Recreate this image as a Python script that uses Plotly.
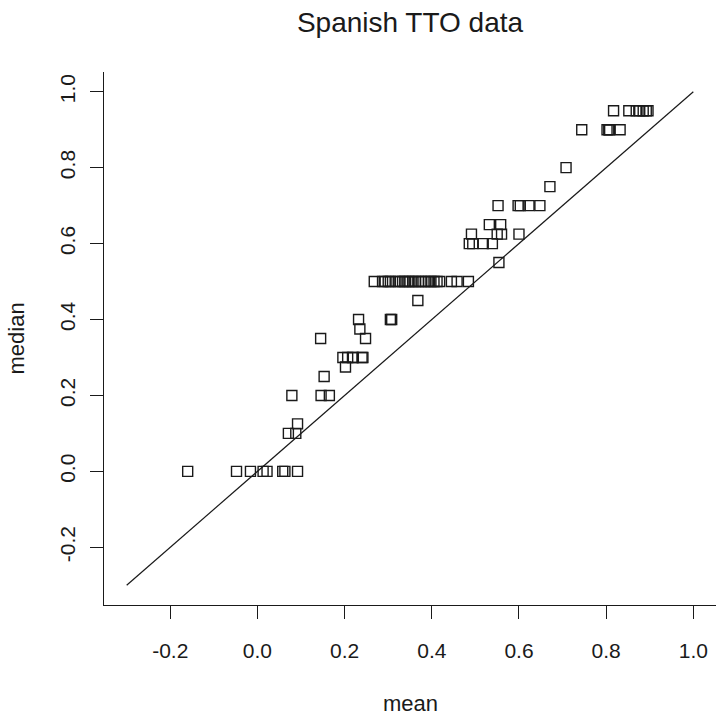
import plotly.graph_objects as go

# TTO data: mean vs median per health state
mean_vals = [
    -0.160, -0.048, -0.016, 0.013, 0.022, 0.058, 0.063, 0.092,   # median 0
    0.071, 0.088,                                                # 0.1
    0.092,                                                       # 0.125
    0.079, 0.146, 0.165,                                         # 0.2
    0.153,                                                       # 0.25
    0.202,                                                       # 0.275
    0.196, 0.207, 0.218, 0.220, 0.240, 0.242,                    # 0.3
    0.145, 0.248,                                                # 0.35
    0.235,                                                       # 0.375
    0.232, 0.305, 0.308,                                         # 0.4
    0.368,                                                       # 0.45
    0.268, 0.287, 0.293, 0.300, 0.305, 0.318, 0.325, 0.333, 0.338, 0.345,
    0.350, 0.357, 0.363, 0.370, 0.377, 0.385, 0.392, 0.398, 0.405, 0.412,
    0.418, 0.445, 0.458, 0.484,                                  # 0.5
    0.554,                                                       # 0.55
    0.486, 0.494, 0.518, 0.539,                                  # 0.6
    0.491, 0.550, 0.560, 0.600,                                  # 0.625
    0.532, 0.558,                                                # 0.65
    0.552, 0.598, 0.603, 0.623, 0.648,                           # 0.7
    0.671,                                                       # 0.75
    0.708,                                                       # 0.8
    0.744, 0.802, 0.806, 0.808, 0.832,                           # 0.9
    0.817, 0.852, 0.869, 0.877, 0.885, 0.892, 0.896,             # 0.95
]
median_vals = (
    [0.0] * 8 + [0.1] * 2 + [0.125] + [0.2] * 3 + [0.25] + [0.275]
    + [0.3] * 6 + [0.35] * 2 + [0.375] + [0.4] * 3 + [0.45]
    + [0.5] * 24 + [0.55] + [0.6] * 4 + [0.625] * 4 + [0.65] * 2
    + [0.7] * 5 + [0.75] + [0.8] + [0.9] * 5 + [0.95] * 7
)

line_x = [-0.3, 1.0]
line_y = [-0.3, 1.0]

tick_vals = [-0.2, 0.0, 0.2, 0.4, 0.6, 0.8, 1.0]
tick_text = ["-0.2", "0.0", "0.2", "0.4", "0.6", "0.8", "1.0"]

FONT = "Liberation Sans, Arial, Helvetica, sans-serif"
INK = "#1a1a1a"

W, H = 716, 715
ML, MT, MB = 104, 72, 110
PH = H - MT - MB
PW = W - ML

fig = go.Figure()
fig.add_trace(go.Scatter(
    x=line_x, y=line_y, mode="lines",
    line=dict(color=INK, width=1.2), hoverinfo="skip",
))
fig.add_trace(go.Scatter(
    x=mean_vals, y=median_vals, mode="markers",
    marker=dict(symbol="square-open", size=10, color=INK,
                line=dict(color=INK, width=1.4)),
))

axis_common = dict(
    showgrid=False, zeroline=False, showline=True, linecolor=INK, linewidth=1,
    ticks="outside", ticklen=13, tickwidth=1, tickcolor=INK,
    tickvals=tick_vals, ticktext=tick_text,
    tickfont=dict(family=FONT, size=21, color=INK),
)

fig.update_layout(
    width=W, height=H,
    margin=dict(l=ML, r=0, t=MT, b=MB),
    paper_bgcolor="white", plot_bgcolor="white",
    showlegend=False,
    title=dict(text="Spanish TTO data", x=0.5, xref="paper", xanchor="center",
               y=1 - 22 / H, yref="container", yanchor="middle",
               font=dict(family=FONT, size=28, color=INK)),
    xaxis=dict(range=[-0.352, 1.052], ticklabelstandoff=14, **axis_common),
    yaxis=dict(range=[-0.352, 1.052], tickangle=-90, ticklabelstandoff=7, **axis_common),
    annotations=[
        dict(text="mean", xref="paper", yref="paper", x=0.5, y=-98 / PH,
             xanchor="center", yanchor="middle", showarrow=False,
             font=dict(family=FONT, size=22, color=INK)),
        dict(text="median", xref="paper", yref="paper", x=-(ML - 16) / PW, y=0.5,
             xanchor="center", yanchor="middle", showarrow=False, textangle=-90,
             font=dict(family=FONT, size=22, color=INK)),
    ],
)

fig.write_html(
    "out.html",
    config={"displayModeBar": False, "staticPlot": True},
    post_script="document.body.style.margin='0';document.body.style.overflow='hidden';",
)
